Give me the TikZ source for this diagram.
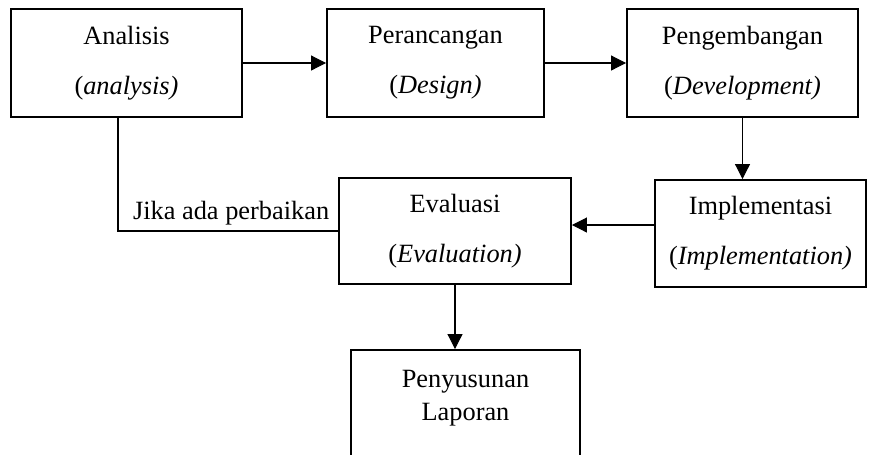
\documentclass[tikz,border=0pt]{standalone}
\usepackage{fontspec}
\setmainfont{Liberation Serif}
\usetikzlibrary{arrows.meta}
\tikzset{
	stage/.style={draw, line width=1.1pt, align=center, inner sep=0pt,
		font=\fontsize{15}{28.4}\selectfont},
	flow/.style={line width=0.6pt, -{Triangle[length=0.3cm, width=0.3cm]}}
}
\begin{document}
\begin{tikzpicture}
		\useasboundingbox (0,0) rectangle (17.44,-9.08);
		
		% Define top row
		\node[stage, minimum width=4.62cm, minimum height=2.16cm] (Analisis) at (2.53,-1.26) {Analisis\\(\textit{analysis)}};
		\node[stage, minimum width=4.34cm, minimum height=2.16cm] (Perancangan) at (8.71,-1.26) {Perancangan\\(\textit{Design)}};
		\node[stage, minimum width=4.62cm, minimum height=2.16cm] (Pengembangan) at (14.85,-1.26) {Pengembangan\\(\textit{Development)}};
		
		\draw[flow] (Analisis) -- (Perancangan);
		\draw[flow] (Perancangan) -- (Pengembangan);
		
		% Define middle row
		\node[stage, minimum width=4.22cm, minimum height=2.14cm] (Implementasi) at (15.21,-4.67) {Implementasi\\(\textit{Implementation)}};
		\node[stage, minimum width=4.64cm, minimum height=2.12cm] (Evaluasi) at (9.10,-4.62) {Evaluasi\\(\textit{Evaluation)}};
		
		\draw[flow] (Pengembangan.south) -- (Pengembangan.south |- Implementasi.north);
		\draw[flow] ([yshift=1.7mm]Implementasi.west) -- ([yshift=1.7mm]Implementasi.west -| Evaluasi.east);
		\draw[line width=0.6pt] ([xshift=-1.7mm]Analisis.south) |- node[pos=0.757, above, font=\fontsize{15}{18}\selectfont] {Jika ada perbaikan} (Evaluasi.west);
		
		% Define bottom row
		\node[stage, minimum width=4.58cm, minimum height=2.16cm, font=\fontsize{15}{18.8}\selectfont, text depth=0.36cm] (Laporan) at (9.31,-8.08) {Penyusunan\\Laporan};
		
		\draw[flow] (Evaluasi.south) -- (Evaluasi.south |- Laporan.north);
	\end{tikzpicture}
\end{document}
